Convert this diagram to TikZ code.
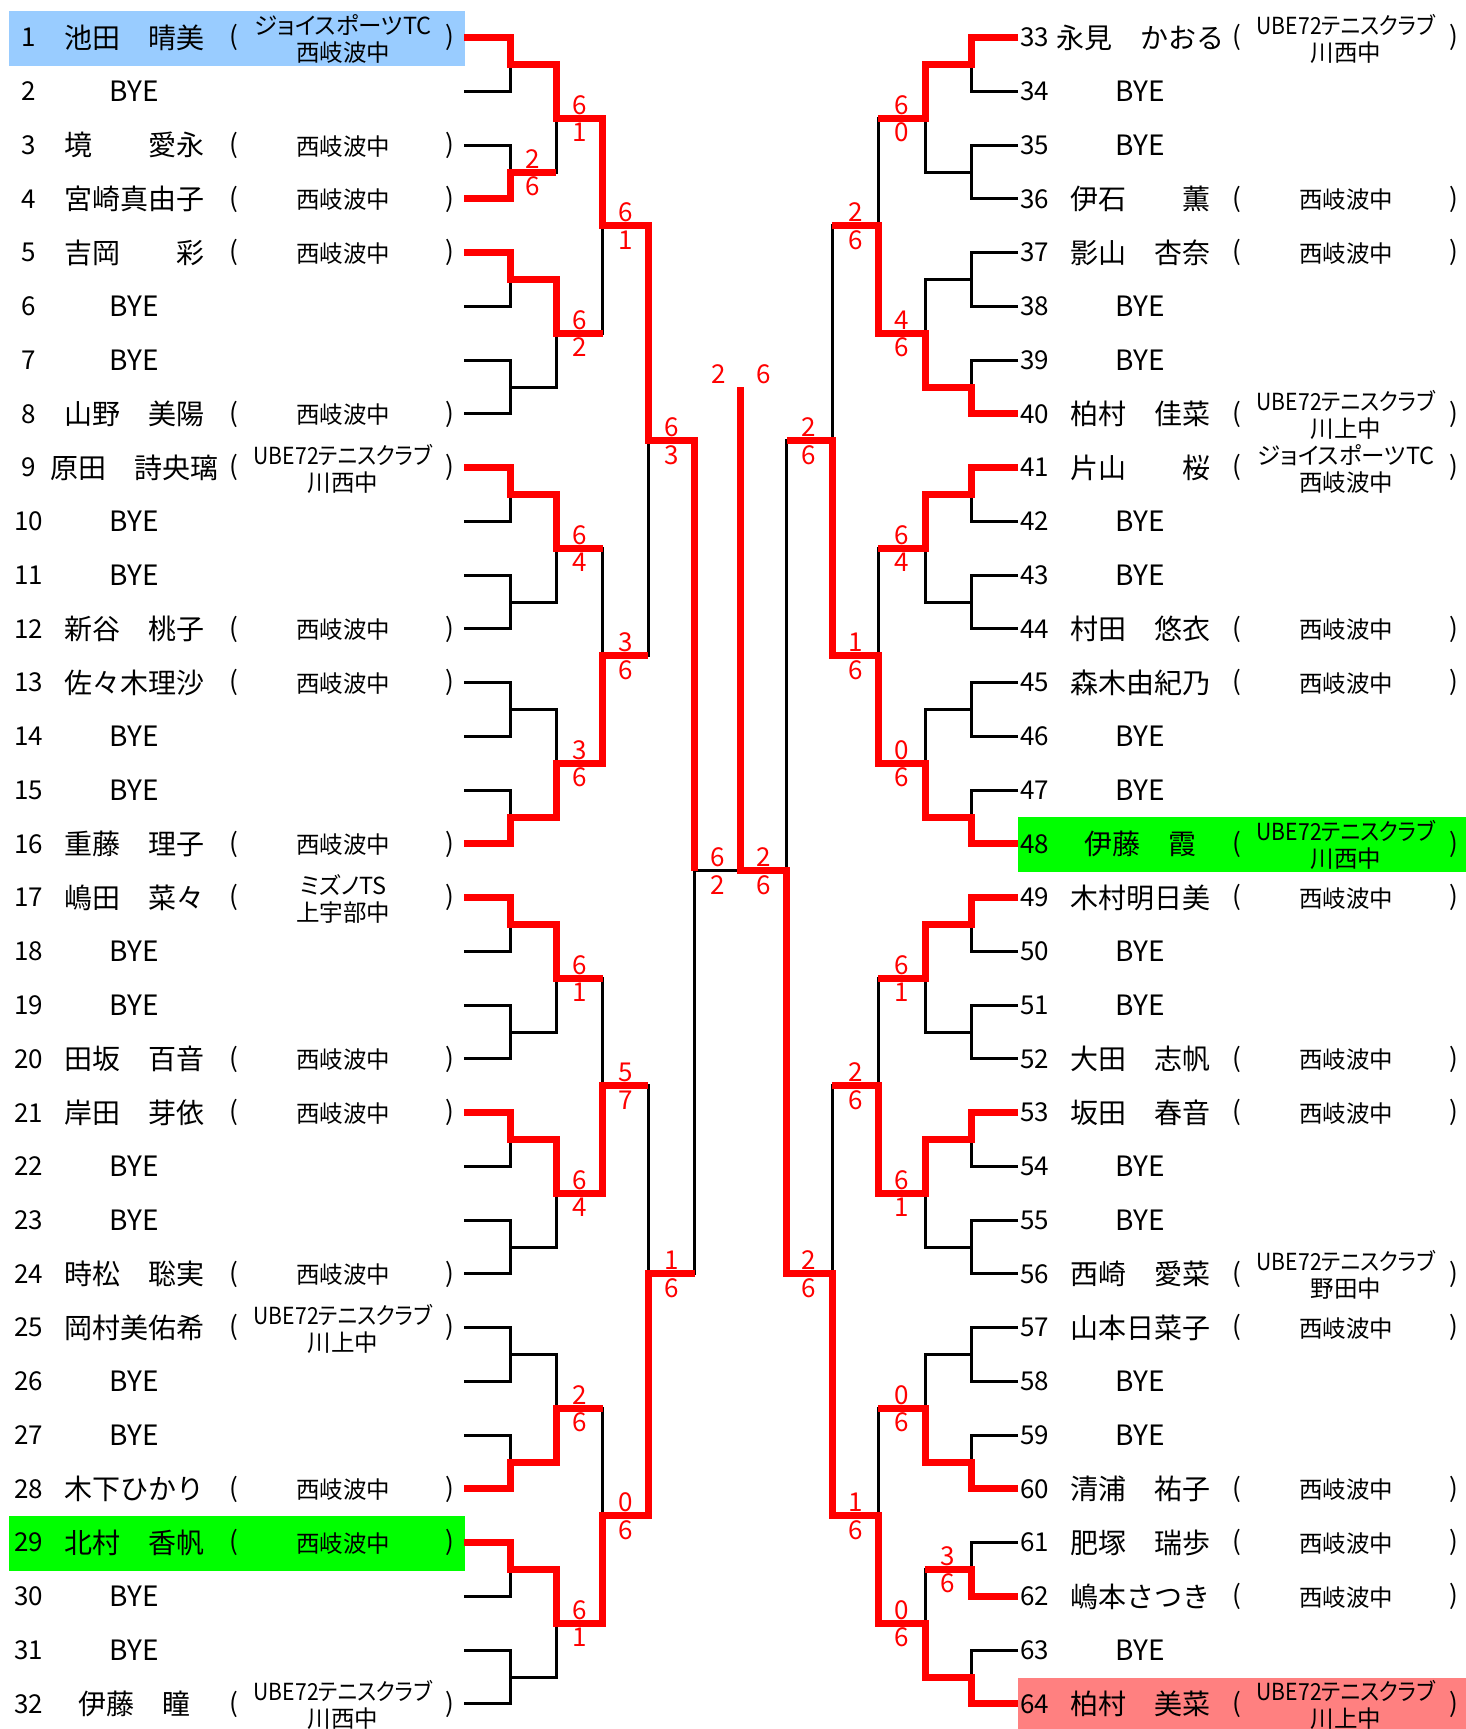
\documentclass[tikz,border=0pt]{standalone}
\usepackage{fontspec}
\newfontfamily\jp{Noto Sans CJK JP}
\newfontfamily\jpp[RawFeature=+palt]{Noto Sans CJK JP}
\usetikzlibrary{calc}
\definecolor{lineRed}{HTML}{FF0000}
\definecolor{hiBlue}{HTML}{99CCFF}
\definecolor{hiGreen}{HTML}{00FF00}
\definecolor{hiPink}{HTML}{FF8080}
\newcommand\yrow[1]{37.7+(#1-1)*53.75}
\newcommand\ube{\scalebox{0.9}[1]{UBE72テニスクラブ}}
\tikzset{
  blk/.style={draw=black, line width=1.5pt, line join=miter},
  win/.style={draw=lineRed, line width=3.5pt, line join=miter},
  sc/.style={text=lineRed, font=\jp\fontsize{13}{13}\selectfont, inner sep=0pt},
  num/.style={font=\jp\fontsize{13}{13}\selectfont, inner sep=0pt},
  nm/.style={font=\jp\fontsize{14}{14}\selectfont, inner sep=0pt},
  tm/.style={font=\jpp\fontsize{11.75}{13.5}\selectfont, align=center, inner sep=0pt},
  par/.style={font=\jp\fontsize{13}{13}\selectfont, inner sep=0pt}
}
\newcommand\plL[4]{%
  \node[num] (nL#1) at (28.5,{\yrow{#1}}) {#2};
  \node[nm] (aL#1) at (134,{\yrow{#1}}) {#3};
  \node[par] (oL#1) at (234,{\yrow{#1}}) {(};
  \node[tm] (tL#1) at (343,{\yrow{#1}+1}) {#4};
  \node[par] (cL#1) at (450,{\yrow{#1}}) {)};
}
\newcommand\byeL[2]{%
  \node[num] (nL#1) at (28.5,{\yrow{#1}}) {#2};
  \node[nm] (aL#1) at (134,{\yrow{#1}}) {BYE};
}
\newcommand\plR[4]{%
  \node[num] (nR#1) at (1034.5,{\yrow{#1}}) {#2};
  \node[nm] (aR#1) at (1140,{\yrow{#1}}) {#3};
  \node[par] (oR#1) at (1237,{\yrow{#1}}) {(};
  \node[tm] (tR#1) at (1346,{\yrow{#1}+1}) {#4};
  \node[par] (cR#1) at (1454,{\yrow{#1}}) {)};
}
\newcommand\byeR[2]{%
  \node[num] (nR#1) at (1034.5,{\yrow{#1}}) {#2};
  \node[nm] (aR#1) at (1140,{\yrow{#1}}) {BYE};
}
\newcommand\scL[4]{%
  \node[sc] (#1a) at ([xshift=11.5pt,yshift=6.75pt]#2) {#3};
  \node[sc] (#1b) at ([xshift=11.5pt,yshift=-7pt]#2) {#4};
}
\newcommand\scR[4]{%
  \node[sc] (#1a) at ([xshift=-11.5pt,yshift=6.75pt]#2) {#3};
  \node[sc] (#1b) at ([xshift=-11.5pt,yshift=-7pt]#2) {#4};
}
\begin{document}
\begin{tikzpicture}[x=0.5pt,y=-0.5pt]
\useasboundingbox (0,0) rectangle (1466,1729);
% highlight bands
\fill[hiBlue] (9,{\yrow{1}-27}) rectangle (465,{\yrow{1}+28});
\fill[hiGreen] (9,{\yrow{29}-27}) rectangle (465,{\yrow{29}+28});
\fill[hiGreen] (1018,{\yrow{16}-27}) rectangle (1466,{\yrow{16}+28});
\fill[hiPink] (1018,{\yrow{32}-26}) rectangle (1466,1729);
% bracket coordinates
\foreach \j in {1,...,32}{
  \coordinate (L0-\j) at (464,{\yrow{\j}});
  \coordinate (R0-\j) at (1018,{\yrow{\j}});
}
\foreach \j in {1,...,16}{
  \coordinate (L1-\j) at (510,{\yrow{2*\j-0.5}});
  \coordinate (R1-\j) at (971,{\yrow{2*\j-0.5}});
}
\foreach \j in {1,...,8}{
  \coordinate (L2-\j) at (556.3,{\yrow{4*\j-1.5}});
  \coordinate (R2-\j) at (925,{\yrow{4*\j-1.5}});
}
\foreach \j in {1,...,4}{
  \coordinate (L3-\j) at (602.5,{\yrow{8*\j-3.5}});
  \coordinate (R3-\j) at (878.3,{\yrow{8*\j-3.5}});
}
\coordinate (L4-1) at (648.4,{\yrow{8.5}});
\coordinate (L4-2) at (648.4,{\yrow{24}});
\coordinate (R4-1) at (832,{\yrow{8.5}});
\coordinate (R4-2) at (832,{\yrow{24}});
\coordinate (L5-1) at (694.5,{\yrow{16.5}});
\coordinate (R5-1) at (786.8,{\yrow{16.5}});
\coordinate (C) at (740.8,{\yrow{16.5}});
\coordinate (Ctop) at (740.8,{\yrow{7.5}});
% black bracket
\foreach \s in {L,R}{
  \foreach \k/\n in {1/16,2/8,3/4,4/2,5/1}{
    \pgfmathtruncatemacro\pk{\k-1}
    \foreach \j in {1,...,\n}{
      \pgfmathtruncatemacro\a{2*\j-1}
      \pgfmathtruncatemacro\b{2*\j}
      \draw[blk] (\s\pk-\a) -| (\s\k-\j) |- (\s\pk-\b);
    }
  }
}
\draw[blk] (L5-1) -- (C) -- (R5-1);
% winning paths, left
\draw[win] (L0-1) -| (L1-1) -| (L2-1) -| (L3-1) -| (L4-1) -| (L5-1);
\draw[win] (L0-4) -| (L1-2) -- (L2-1 |- L1-2);
\draw[win] (L0-5) -| (L1-3) -| (L2-2) -- (L3-1 |- L2-2);
\draw[win] (L0-9) -| (L1-5) -| (L2-3) -- (L3-2 |- L2-3);
\draw[win] (L0-16) -| (L1-8) -| (L2-4) -| (L3-2) -- (L4-1 |- L3-2);
\draw[win] (L0-17) -| (L1-9) -| (L2-5) -- (L3-3 |- L2-5);
\draw[win] (L0-21) -| (L1-11) -| (L2-6) -| (L3-3) -- (L4-2 |- L3-3);
\draw[win] (L0-28) -| (L1-14) -| (L2-7) -- (L3-4 |- L2-7);
\draw[win] (L0-29) -| (L1-15) -| (L2-8) -| (L3-4) -| (L4-2) -- (L5-1 |- L4-2);
% winning paths, right
\draw[win] (R0-1) -| (R1-1) -| (R2-1) -- (R3-1 |- R2-1);
\draw[win] (R0-8) -| (R1-4) -| (R2-2) -| (R3-1) -- (R4-1 |- R3-1);
\draw[win] (R0-9) -| (R1-5) -| (R2-3) -- (R3-2 |- R2-3);
\draw[win] (R0-16) -| (R1-8) -| (R2-4) -| (R3-2) -| (R4-1) -- (R5-1 |- R4-1);
\draw[win] (R0-17) -| (R1-9) -| (R2-5) -- (R3-3 |- R2-5);
\draw[win] (R0-21) -| (R1-11) -| (R2-6) -| (R3-3) -- (R4-2 |- R3-3);
\draw[win] (R0-28) -| (R1-14) -| (R2-7) -- (R3-4 |- R2-7);
\draw[win] (R0-30) -| (R1-15) -- (R2-8 |- R1-15);
\draw[win] (R0-32) -| (R1-16) -| (R2-8) -| (R3-4) -| (R4-2) -| (R5-1) -- (C) -- (Ctop);
% scores left
\scL{s1}{L1-2}{2}{6}
\scL{s2}{L2-1}{6}{1}
\scL{s3}{L2-2}{6}{2}
\scL{s4}{L3-1}{6}{1}
\scL{s5}{L2-3}{6}{4}
\scL{s6}{L2-4}{3}{6}
\scL{s7}{L3-2}{3}{6}
\scL{s8}{L4-1}{6}{3}
\scL{s9}{L5-1}{6}{2}
\scL{s10}{L2-5}{6}{1}
\scL{s11}{L2-6}{6}{4}
\scL{s12}{L3-3}{5}{7}
\scL{s13}{L2-7}{2}{6}
\scL{s14}{L2-8}{6}{1}
\scL{s15}{L3-4}{0}{6}
\scL{s16}{L4-2}{1}{6}
% scores right
\scR{t1}{R2-1}{6}{0}
\scR{t2}{R2-2}{4}{6}
\scR{t3}{R3-1}{2}{6}
\scR{t4}{R2-3}{6}{4}
\scR{t5}{R2-4}{0}{6}
\scR{t6}{R3-2}{1}{6}
\scR{t7}{R4-1}{2}{6}
\scR{t8}{R5-1}{2}{6}
\scR{t9}{R2-5}{6}{1}
\scR{t10}{R2-6}{6}{1}
\scR{t11}{R3-3}{2}{6}
\scR{t12}{R2-7}{0}{6}
\scR{t13}{R1-15}{3}{6}
\scR{t14}{R2-8}{0}{6}
\scR{t15}{R3-4}{1}{6}
\scR{t16}{R4-2}{2}{6}
% final
\node[sc] (f1) at ([xshift=-11.25pt,yshift=6.5pt]Ctop) {2};
\node[sc] (f2) at ([xshift=11.25pt,yshift=6.5pt]Ctop) {6};
% left entries
\plL{1}{1}{池田　晴美}{ジョイスポーツTC\\西岐波中}
\byeL{2}{2}
\plL{3}{3}{境　　愛永}{西岐波中}
\plL{4}{4}{宮崎真由子}{西岐波中}
\plL{5}{5}{吉岡　　彩}{西岐波中}
\byeL{6}{6}
\byeL{7}{7}
\plL{8}{8}{山野　美陽}{西岐波中}
\plL{9}{9}{原田　詩央璃}{\ube\\川西中}
\byeL{10}{10}
\byeL{11}{11}
\plL{12}{12}{新谷　桃子}{西岐波中}
\plL{13}{13}{佐々木理沙}{西岐波中}
\byeL{14}{14}
\byeL{15}{15}
\plL{16}{16}{重藤　理子}{西岐波中}
\plL{17}{17}{嶋田　菜々}{ミズノTS\\上宇部中}
\byeL{18}{18}
\byeL{19}{19}
\plL{20}{20}{田坂　百音}{西岐波中}
\plL{21}{21}{岸田　芽依}{西岐波中}
\byeL{22}{22}
\byeL{23}{23}
\plL{24}{24}{時松　聡実}{西岐波中}
\plL{25}{25}{岡村美佑希}{\ube\\川上中}
\byeL{26}{26}
\byeL{27}{27}
\plL{28}{28}{木下ひかり}{西岐波中}
\plL{29}{29}{北村　香帆}{西岐波中}
\byeL{30}{30}
\byeL{31}{31}
\plL{32}{32}{伊藤　瞳}{\ube\\川西中}
% right entries
\plR{1}{33}{永見　かおる}{\ube\\川西中}
\byeR{2}{34}
\byeR{3}{35}
\plR{4}{36}{伊石　　薫}{西岐波中}
\plR{5}{37}{影山　杏奈}{西岐波中}
\byeR{6}{38}
\byeR{7}{39}
\plR{8}{40}{柏村　佳菜}{\ube\\川上中}
\plR{9}{41}{片山　　桜}{ジョイスポーツTC\\西岐波中}
\byeR{10}{42}
\byeR{11}{43}
\plR{12}{44}{村田　悠衣}{西岐波中}
\plR{13}{45}{森木由紀乃}{西岐波中}
\byeR{14}{46}
\byeR{15}{47}
\plR{16}{48}{伊藤　霞}{\ube\\川西中}
\plR{17}{49}{木村明日美}{西岐波中}
\byeR{18}{50}
\byeR{19}{51}
\plR{20}{52}{大田　志帆}{西岐波中}
\plR{21}{53}{坂田　春音}{西岐波中}
\byeR{22}{54}
\byeR{23}{55}
\plR{24}{56}{西崎　愛菜}{\ube\\野田中}
\plR{25}{57}{山本日菜子}{西岐波中}
\byeR{26}{58}
\byeR{27}{59}
\plR{28}{60}{清浦　祐子}{西岐波中}
\plR{29}{61}{肥塚　瑞歩}{西岐波中}
\plR{30}{62}{嶋本さつき}{西岐波中}
\byeR{31}{63}
\plR{32}{64}{柏村　美菜}{\ube\\川上中}
\end{tikzpicture}
\end{document}
